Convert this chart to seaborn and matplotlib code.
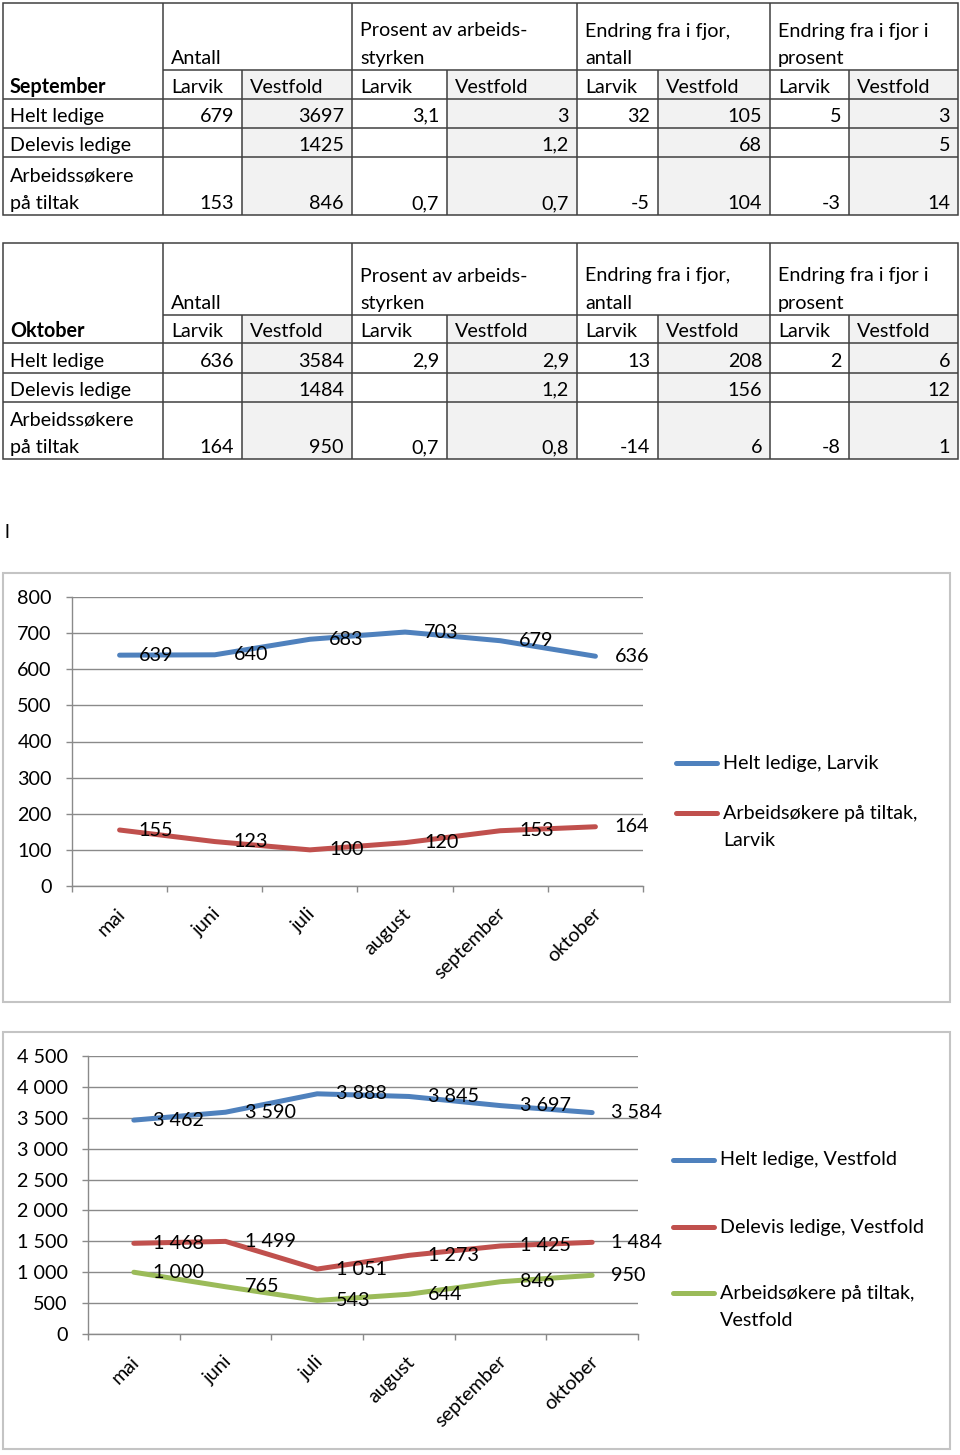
import numpy as np
import pandas as pd
import matplotlib
matplotlib.use("Agg")
import matplotlib.pyplot as plt
import seaborn as sns
from matplotlib.patches import Rectangle
from matplotlib.transforms import ScaledTranslation

# ---------------- data ----------------
months = ["mai", "juni", "juli", "august", "september", "oktober"]
helt_larvik = [639, 640, 683, 703, 679, 636]
tiltak_larvik = [155, 123, 100, 120, 153, 164]
helt_vestfold = [3462, 3590, 3888, 3845, 3697, 3584]
delevis_vestfold = [1468, 1499, 1051, 1273, 1425, 1484]
tiltak_vestfold = [1000, 765, 543, 644, 846, 950]

series1_names = ["Helt ledige, Larvik", "Arbeidsøkere på tiltak,\nLarvik"]
series2_names = ["Helt ledige, Vestfold", "Delevis ledige, Vestfold",
                 "Arbeidsøkere på tiltak,\nVestfold"]

y1_ticks = list(range(0, 801, 100))
y2_ticks = list(range(0, 4501, 500))

group_headers = ["Antall", "Prosent av arbeids-\nstyrken",
                 "Endring fra i fjor,\nantall", "Endring fra i fjor i\nprosent"]
sub_headers = ["Larvik", "Vestfold"] * 4
row_labels = ["Helt ledige", "Delevis ledige", "Arbeidssøkere\npå tiltak"]
sept_title = "September"
sept_values = [["679", "3697", "3,1", "3", "32", "105", "5", "3"],
               ["", "1425", "", "1,2", "", "68", "", "5"],
               ["153", "846", "0,7", "0,7", "-5", "104", "-3", "14"]]
okt_title = "Oktober"
okt_values = [["636", "3584", "2,9", "2,9", "13", "208", "2", "6"],
              ["", "1484", "", "1,2", "", "156", "", "12"],
              ["164", "950", "0,7", "0,8", "-14", "6", "-8", "1"]]

BLUE, RED, GREEN = "#4F81BD", "#C0504D", "#9BBB59"

# ---------------- style ----------------
sns.set_theme(style="white")
plt.rcParams['font.family'] = ['Lato', 'DejaVu Sans']
FS = 14.2
GRID = "#8a8a8a"

W, H = 960, 1455
fig = plt.figure(figsize=(W / 100, H / 100), dpi=100)
fig.patch.set_facecolor("white")
bg = fig.add_axes([0, 0, 1, 1])
bg.set_xlim(0, W)
bg.set_ylim(H, 0)
bg.axis("off")


def px_rect(x0, y0, x1, y1):
    return [x0 / W, 1 - y1 / H, (x1 - x0) / W, (y1 - y0) / H]


# ---------------- tables ----------------
col_x = [3, 163, 242, 352, 447, 577, 658, 770, 849, 958]
LC, LW = "#404040", 1.1


def draw_table(ry, title, values):
    y0, y1, y2, y3, y4, y5 = ry
    for j in range(8):
        if j % 2 == 1:
            bg.add_patch(Rectangle((col_x[j + 1], y1), col_x[j + 2] - col_x[j + 1],
                                   y5 - y1, facecolor="#f2f2f2", edgecolor="none"))
    bg.add_patch(Rectangle((col_x[0], y0), col_x[-1] - col_x[0], y5 - y0,
                           fill=False, edgecolor=LC, lw=LW))
    bg.hlines(y1, col_x[1], col_x[-1], color=LC, lw=LW)
    bg.hlines([y2, y3, y4], col_x[0], col_x[-1], color=LC, lw=LW)
    for k in range(1, 9):
        if k % 2 == 1:
            bg.vlines(col_x[k], y0, y5, color=LC, lw=LW)
        else:
            bg.vlines(col_x[k], y1, y5, color=LC, lw=LW)

    def put(text, x, ybot, ha="left", **kw):
        lines = text.split("\n")
        for i, ln in enumerate(reversed(lines)):
            bg.text(x, ybot - 6 - 27.5 * i, ln, ha=ha, va="baseline",
                    fontsize=FS, color="black", **kw)

    for g, lab in enumerate(group_headers):
        put(lab, col_x[1 + 2 * g] + 8, y1)
    put(title, 10, y2, fontweight="bold")
    for k, lab in enumerate(sub_headers):
        put(lab, col_x[k + 1] + 8, y2)
    bottoms = [y3, y4, y5]
    for r, lab in enumerate(row_labels):
        put(lab, 10, bottoms[r])
        for j, v in enumerate(values[r]):
            if v:
                put(v, col_x[j + 2] - 8, bottoms[r], ha="right")


draw_table([2.7, 70, 99.3, 127.7, 156.7, 215], sept_title, sept_values)
draw_table([243.3, 315, 343.3, 372.7, 401.7, 459], okt_title, okt_values)

bg.text(5, 538, "l", ha="left", va="baseline", fontsize=FS, color="black")

# chart frames
bg.add_patch(Rectangle((3, 573), 947, 429, fill=False, edgecolor="#c4c4c4", lw=1.5))
bg.add_patch(Rectangle((3, 1032), 947, 417, fill=False, edgecolor="#c4c4c4", lw=1.5))


# ---------------- charts ----------------
def fmt(v):
    return f"{v:,}".replace(",", " ")


def line_chart(rect, series, names, colors, yticks, label_fmt, leg):
    ax = fig.add_axes(rect)
    ax.set_facecolor("none")
    rows = []
    for name, vals in zip(names, series):
        for m, v in zip(months, vals):
            rows.append({"month": m, "value": v, "series": name})
    df = pd.DataFrame(rows)
    sns.lineplot(data=df, x="month", y="value", hue="series", palette=colors,
                 lw=3.6, ax=ax, legend=False, sort=False, solid_capstyle="round")
    ax.set_xlim(-0.5, 5.5)
    ax.set_ylim(yticks[0], yticks[-1])
    ax.set_yticks(yticks)
    ax.set_yticklabels([label_fmt(t) for t in yticks])
    ax.set_axisbelow(True)
    ax.yaxis.grid(True, color=GRID, lw=1.0)
    ax.xaxis.grid(False)
    for s in ["top", "right"]:
        ax.spines[s].set_visible(False)
    for s in ["left", "bottom"]:
        ax.spines[s].set_color(GRID)
        ax.spines[s].set_linewidth(1.0)
    ax.set_xlabel("")
    ax.set_ylabel("")
    ax.tick_params(axis="y", which="major", length=4.5, width=1, color=GRID,
                   pad=10, labelsize=FS, labelcolor="black", left=True)
    ax.set_xticks(range(len(months)))
    ax.set_xticklabels(months)
    ax.set_xticks(np.arange(-0.5, len(months), 1), minor=True)
    ax.tick_params(axis="x", which="major", length=0, pad=18, labelsize=FS,
                   labelcolor="black", bottom=True)
    ax.tick_params(axis="x", which="minor", length=4.5, width=1, color=GRID,
                   bottom=True, direction="out")
    off = ScaledTranslation(3 / 100, 0, fig.dpi_scale_trans)
    for lab in ax.get_xticklabels():
        lab.set_rotation(45)
        lab.set_ha("right")
        lab.set_va("center")
        lab.set_rotation_mode("anchor")
        lab.set_transform(lab.get_transform() + off)
    for vals in series:
        for i, v in enumerate(vals):
            ax.annotate(label_fmt(v), (i, v), xytext=(13.7, 0),
                        textcoords="offset points", ha="left", va="center",
                        fontsize=FS, color="black", annotation_clip=False)
    # legend
    (lx0, lx1, tx), ys = leg
    for name, col, yy in zip(names, colors, ys):
        bg.plot([lx0, lx1], [yy, yy], color=col, lw=3.6, solid_capstyle="round")
        for i, ln in enumerate(name.split("\n")):
            bg.text(tx, yy + 27 * i, ln, ha="left", va="center", fontsize=FS,
                    color="black")
    return ax


line_chart(px_rect(72, 597, 643, 886), [helt_larvik, tiltak_larvik],
           series1_names, [BLUE, RED], y1_ticks, lambda v: str(v),
           ((676, 717, 723), [763, 813]))
line_chart(px_rect(88, 1056, 638, 1334),
           [helt_vestfold, delevis_vestfold, tiltak_vestfold],
           series2_names, [BLUE, RED, GREEN], y2_ticks, fmt,
           ((673, 714, 720), [1160, 1227, 1293]))

fig.savefig("out.png", dpi=100)
